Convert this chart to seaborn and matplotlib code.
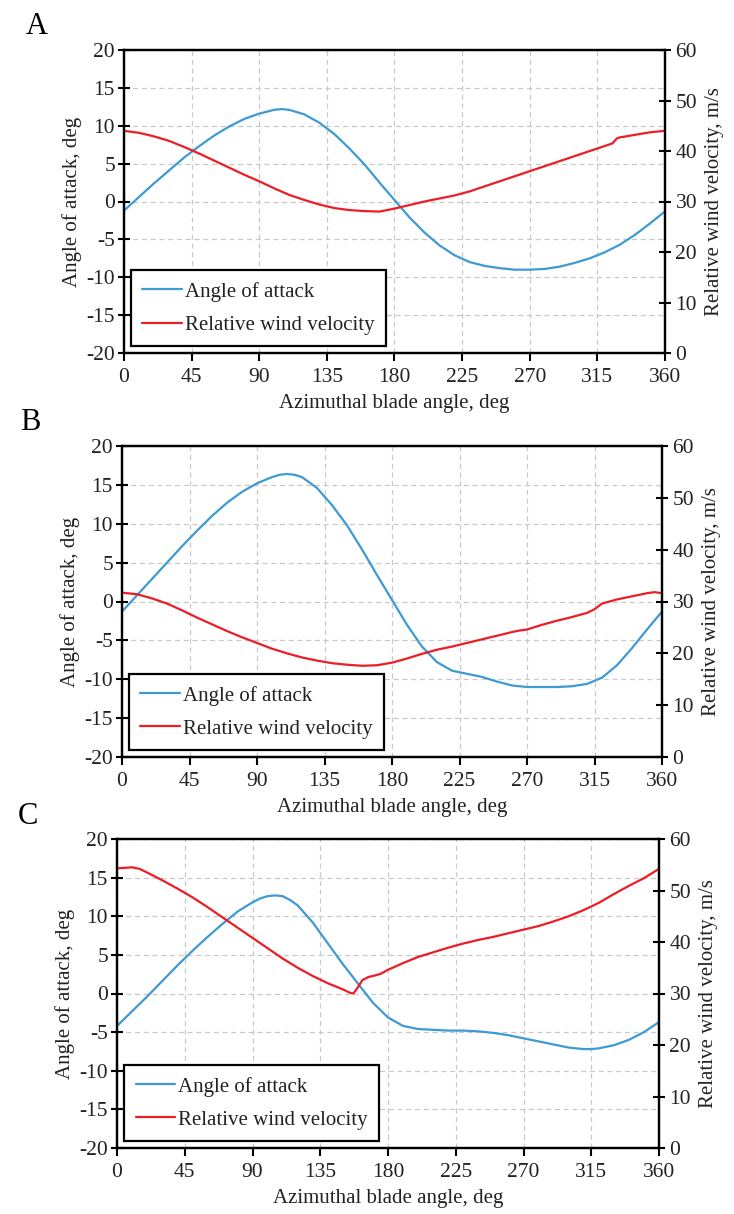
import numpy as np
import pandas as pd
import seaborn as sns
import matplotlib.pyplot as plt
from matplotlib.lines import Line2D

# ---------------------------------------------------------------------------
# Data: azimuthal blade angle (deg), angle of attack (deg), relative wind (m/s)
# ---------------------------------------------------------------------------

# Case A
aoa_a_deg = [0, 0, 10, 20, 30, 40, 50, 60, 70, 80, 90, 100, 105, 110, 120,
             130, 140, 150, 160, 170, 180, 190, 200, 210, 220, 230, 240, 250,
             260, 270, 280, 290, 300, 310, 320, 330, 340, 350, 360]
aoa_a = [1.2, -1.2, 0.6, 2.4, 4.1, 5.8, 7.3, 8.7, 9.9, 10.9, 11.6, 12.1, 12.2,
         12.1, 11.5, 10.4, 8.9, 7.0, 4.9, 2.5, 0.2, -2.1, -4.1, -5.8, -7.1,
         -8.0, -8.5, -8.8, -9.0, -9.0, -8.9, -8.6, -8.1, -7.5, -6.7, -5.7,
         -4.4, -2.9, -1.3]
vel_a_deg = [0, 10, 20, 30, 40, 50, 60, 70, 80, 90, 100, 110, 120, 130, 140,
             150, 160, 170, 180, 190, 200, 210, 220, 230, 240, 250, 260, 270,
             280, 290, 300, 310, 320, 325, 328, 330, 340, 350, 360]
vel_a = [44.0, 43.6, 42.9, 42.0, 40.8, 39.5, 38.1, 36.7, 35.3, 34.0, 32.6,
         31.3, 30.3, 29.4, 28.7, 28.3, 28.1, 28.0, 28.6, 29.3, 30.0, 30.6,
         31.2, 32.0, 33.0, 34.0, 35.0, 36.0, 37.0, 38.0, 39.0, 40.0, 41.0,
         41.5, 42.5, 42.7, 43.2, 43.7, 44.0]

# Case B
aoa_b_deg = [0, 10, 20, 30, 40, 50, 60, 70, 80, 90, 100, 105, 110, 115, 120,
             130, 140, 150, 160, 170, 180, 190, 200, 210, 220, 230, 240, 250,
             260, 270, 280, 290, 300, 310, 320, 330, 340, 350, 360]
aoa_b = [-1.3, 0.8, 2.9, 5.0, 7.1, 9.1, 11.0, 12.7, 14.1, 15.2, 16.0, 16.3,
         16.4, 16.3, 16.0, 14.6, 12.4, 9.8, 6.7, 3.4, 0.2, -3.0, -5.8, -7.8,
         -8.9, -9.3, -9.7, -10.3, -10.8, -11.0, -11.0, -11.0, -10.9, -10.6,
         -9.8, -8.2, -6.0, -3.6, -1.3]
vel_b_deg = [0, 10, 20, 30, 40, 50, 60, 70, 80, 90, 100, 110, 120, 130, 140,
             150, 160, 170, 180, 190, 200, 210, 220, 230, 240, 250, 260, 265,
             270, 280, 290, 300, 310, 315, 320, 330, 340, 350, 355, 360]
vel_b = [31.7, 31.4, 30.6, 29.6, 28.3, 26.9, 25.6, 24.3, 23.1, 22.0, 20.9,
         20.0, 19.2, 18.6, 18.1, 17.8, 17.6, 17.7, 18.2, 19.0, 19.9, 20.7,
         21.3, 22.0, 22.7, 23.4, 24.1, 24.4, 24.6, 25.5, 26.3, 27.0, 27.8,
         28.5, 29.6, 30.4, 31.0, 31.6, 31.8, 31.6]

# Case C
aoa_c_deg = [0, 10, 20, 30, 40, 50, 60, 70, 80, 90, 95, 100, 105, 110, 115,
             120, 130, 140, 150, 160, 170, 180, 190, 200, 210, 220, 230, 240,
             250, 260, 270, 280, 290, 300, 310, 315, 320, 330, 340, 350, 360]
aoa_c = [-4.2, -2.3, -0.4, 1.6, 3.6, 5.5, 7.3, 9.0, 10.6, 11.8, 12.3, 12.6,
         12.7, 12.6, 12.1, 11.4, 9.2, 6.5, 3.8, 1.3, -1.2, -3.1, -4.2, -4.6,
         -4.7, -4.8, -4.8, -4.9, -5.1, -5.4, -5.8, -6.2, -6.6, -7.0, -7.2,
         -7.2, -7.1, -6.7, -6.0, -5.0, -3.7]
vel_c_deg = [0, 10, 15, 20, 30, 40, 50, 60, 70, 80, 90, 100, 110, 120, 130,
             140, 150, 155, 157, 160, 163, 167, 170, 175, 180, 190, 200, 210,
             220, 230, 240, 250, 260, 270, 280, 290, 300, 310, 320, 330, 340,
             350, 360]
vel_c = [54.3, 54.5, 54.2, 53.5, 52.0, 50.4, 48.7, 46.8, 44.8, 42.8, 40.8,
         38.8, 36.8, 35.0, 33.4, 32.0, 30.8, 30.1, 30.0, 31.2, 32.6, 33.2,
         33.4, 33.8, 34.6, 35.9, 37.1, 38.0, 38.9, 39.7, 40.4, 41.0, 41.7,
         42.4, 43.1, 44.0, 45.0, 46.2, 47.6, 49.3, 50.9, 52.4, 54.2]

x_ticks = list(range(0, 361, 45))
aoa_ticks = list(range(-20, 21, 5))
vel_ticks = list(range(0, 61, 10))

series_names = ["Angle of attack", "Relative wind velocity"]

# ---------------------------------------------------------------------------
# Styling
# ---------------------------------------------------------------------------
sns.set_theme(style="ticks")
plt.rcParams["font.family"] = ["Liberation Serif", "DejaVu Serif"]
plt.rcParams["axes.unicode_minus"] = False

BLUE = "#3d9ad3"
RED = "#ee1c24"
GRID = "#c9c9c9"
TEXT = "#222222"
LW = 1.6

W, H = 734, 1214
fig = plt.figure(figsize=(W / 100, H / 100), dpi=100, facecolor="white")


def rect(left, top, right, bottom):
    return [left / W, 1 - bottom / H, (right - left) / W, (bottom - top) / H]


panels = [
    dict(letter="A", box=(124, 50, 665, 353), letter_xy=(37, 27),
         aoa=(aoa_a_deg, aoa_a), vel=(vel_a_deg, vel_a)),
    dict(letter="B", box=(122, 446, 662, 757), letter_xy=(30, 423),
         aoa=(aoa_b_deg, aoa_b), vel=(vel_b_deg, vel_b)),
    dict(letter="C", box=(117, 839, 659, 1148), letter_xy=(28, 816),
         aoa=(aoa_c_deg, aoa_c), vel=(vel_c_deg, vel_c)),
]

for p in panels:
    ax = fig.add_axes(rect(*p["box"]))
    ax2 = ax.twinx()

    df_aoa = pd.DataFrame({"azimuth": p["aoa"][0], "value": p["aoa"][1]})
    df_vel = pd.DataFrame({"azimuth": p["vel"][0], "value": p["vel"][1]})

    sns.lineplot(data=df_aoa, x="azimuth", y="value", ax=ax, color=BLUE,
                 linewidth=LW, estimator=None, sort=False, legend=False)
    sns.lineplot(data=df_vel, x="azimuth", y="value", ax=ax2, color=RED,
                 linewidth=LW, estimator=None, sort=False, legend=False)
    for ln in ax.lines + ax2.lines:
        ln.set_solid_joinstyle("round")
        ln.set_solid_capstyle("round")

    ax.set_xlim(0, 360)
    ax.set_ylim(-20, 20)
    ax2.set_ylim(0, 60)
    ax.set_xticks(x_ticks)
    ax.set_yticks(aoa_ticks)
    ax2.set_yticks(vel_ticks)

    ax.grid(True, color=GRID, linestyle=(0, (4, 3)), linewidth=0.9)
    ax2.grid(False)

    for a in (ax, ax2):
        for s in a.spines.values():
            s.set_visible(True)
            s.set_color("black")
            s.set_linewidth(1.6)
        a.tick_params(colors="black", labelcolor=TEXT, labelsize=15.5,
                      width=1.5)
    ax.tick_params(axis="y", direction="inout", length=9, pad=2)
    ax.tick_params(axis="x", direction="out", length=6, pad=5)
    ax2.tick_params(axis="y", direction="inout", length=9, pad=3)

    ax.set_xlabel("Azimuthal blade angle, deg", fontsize=15, color=TEXT,
                  labelpad=5)
    ax.set_ylabel("Angle of attack, deg", fontsize=15, color=TEXT,
                  labelpad=3)
    ax2.set_ylabel("Relative wind velocity, m/s", fontsize=15, color=TEXT,
                   labelpad=6)

    handles = [Line2D([], [], color=BLUE, linewidth=LW),
               Line2D([], [], color=RED, linewidth=LW)]
    leg = ax2.legend(handles, series_names, loc="lower left",
                     bbox_to_anchor=(0.013, 0.022), borderaxespad=0,
                     frameon=True, fancybox=False, fontsize=15,
                     handlelength=1.9, handletextpad=0.15,
                     labelspacing=0.65, borderpad=0.55)
    frame = leg.get_frame()
    frame.set_edgecolor("black")
    frame.set_linewidth(1.6)
    frame.set_facecolor("white")
    frame.set_alpha(1)
    for t in leg.get_texts():
        t.set_color(TEXT)

    fig.text(p["letter_xy"][0] / W, 1 - p["letter_xy"][1] / H, p["letter"],
             fontsize=22, ha="center", va="center", color="black")

fig.savefig("out.png", dpi=100, facecolor="white")
